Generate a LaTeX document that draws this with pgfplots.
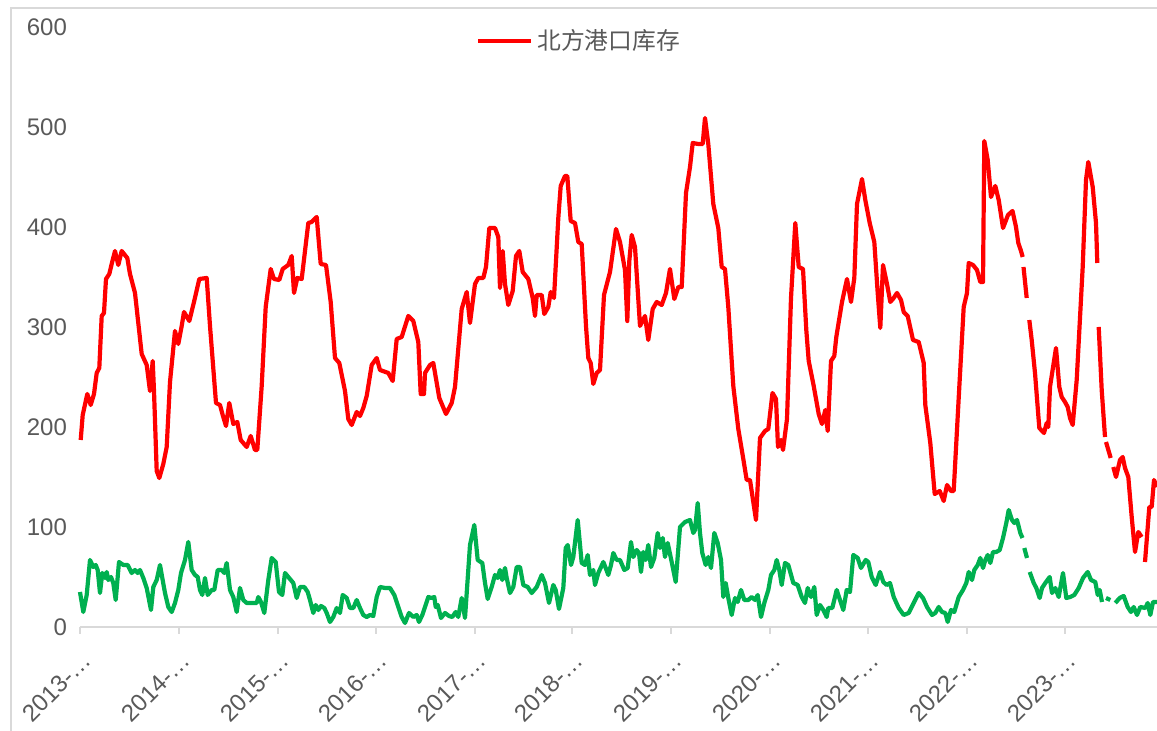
\documentclass[border=0pt]{standalone}
\usepackage{fontspec}
\setmainfont{Liberation Sans}
\newfontfamily\cjk{Noto Sans CJK SC}
\usepackage{pgfplots}
\pgfplotsset{compat=1.18}
\definecolor{axisgrey}{RGB}{217,217,217}
\definecolor{labelgrey}{RGB}{89,89,89}
\definecolor{redline}{RGB}{255,0,0}
\definecolor{greenline}{RGB}{0,176,80}
\begin{document}
\begin{tikzpicture}
\useasboundingbox (0,0) rectangle (578.5pt,365.5pt);
\draw[axisgrey, line width=0.75pt] (5.5pt,0) -- (5.5pt,361.5pt) -- (578.5pt,361.5pt);
\begin{axis}[
  at={(40pt,52pt)}, anchor=south west,
  scale only axis, width=538.5pt, height=300pt,
  xmin=80, xmax=1157, ymin=0, ymax=600,
  axis x line*=bottom, axis y line*=left,
  x axis line style={draw=axisgrey, line width=0.75pt},
  y axis line style={draw=none},
  xtick={80,179,278,376,475,572,671,770,868,967,1065},
  xticklabels={2013-…,2014-…,2015-…,2016-…,2017-…,2018-…,2019-…,2020-…,2021-…,2022-…,2023-…},
  ytick={0,100,200,300,400,500,600},
  ytick style={draw=none},
  xtick style={draw=axisgrey, line width=0.75pt},
  xtick align=outside, major tick length=3.5pt,
  tick label style={font=\fontsize{12}{14}\selectfont, text=labelgrey},
  xticklabel style={anchor=east, xshift=6pt, yshift=-9pt, rotate=45},
  yticklabel style={xshift=-3pt},
  /pgf/number format/assume math mode=true,
  unbounded coords=jump,
  clip=false,
  legend style={at={(0.4643,0.9767)}, anchor=center, draw=none, fill=none,
    font=\cjk\fontsize{11.9}{13}\selectfont, text=labelgrey},
  legend image code/.code={\draw[#1, line width=2.1pt] (0pt,0pt) -- (26.5pt,0pt);},
  every axis plot/.append style={line join=round},
]
\addplot[color=greenline, line width=2.1pt, forget plot] table {
x y
80 35
83.3 15
86.7 32
90 67
93.3 60
95.7 62
97.7 57
100 34
102.3 54
105 49
106.7 55
108.3 47
111 50
113.3 44
115.7 27
119 65
123.3 62
127.7 62
131.7 54
135 57
137.7 54
140 57
143.3 49
146.7 39
151 17
153.3 40
156.7 47
160 62
162.3 49
165 34
168.3 20
171.7 15
175 24
178.3 37
181 54
185 67
188.3 85
191.7 57
195 52
197.7 50
200 37
202.3 32
205 49
207.7 32
211.7 37
214.3 37
217.7 57
221.7 57
224.3 54
226.7 64
230 37
233.3 30
236.7 15
240 39
243.3 27
246.7 24
251.7 24
256.7 24
258.3 30
261 25
264.3 14
268.3 47
271.7 69
275.7 65
279 35
282.3 32
285 54
288.3 50
293.3 44
296.7 29
300 40
304.3 40
307.7 35
310 27
313.3 14
315.7 22
318.3 17
321 21
324.3 19
326.7 14
330 5
333.3 10
336.7 19
340 14
342.7 32
346.7 29
350 19
353.3 19
356.7 27
360 19
363.3 12
366.7 10
370 12
373.3 11
376.7 30
380 40
385 39
390 39
394.3 32
398.3 20
401.7 10
405 4
409 14
413.3 10
416.7 12
419 5
422.3 12
425.7 22
428.3 30
431.7 29
434.3 30
435.7 20
437.7 22
441 9
445 14
449 11
452.3 10
455.7 15
458.3 10
461.7 29
465 9
470 82
474.3 102
477.7 67
482.3 64
485 44
487.7 28
491.7 40
495 52
497.7 49
500 57
502.3 47
505 59
506.7 49
510 34
513.3 40
516.7 60
520 60
523.3 42
527.7 40
531.7 34
536.7 40
541.7 52
545 44
549 24
553.3 42
555.7 37
559 18
563.3 39
565.7 79
567.7 82
571 62
573.3 70
577.7 107
581.7 64
585 62
587.7 72
590 52
593.3 57
595 42
598.3 54
603.3 65
605.7 59
608.3 52
611 62
613.3 74
616.7 67
620 67
624.3 57
627.7 59
631 85
633.3 70
636.7 77
639 74
641 55
643.3 75
645.7 67
648.3 82
651 60
654.3 69
657.7 94
660 79
662.7 89
665 70
667.7 84
671.7 65
675.7 45
680 100
685 105
690 107
693.3 94
695 97
697.7 124
700 94
702.3 74
705.7 62
708.3 70
711 59
714.3 94
717.7 84
721 67
723.3 30
725.7 44
728.3 29
731.7 12
735 29
737.7 25
741 37
744.3 27
748.3 27
751.7 30
755 27
757.7 32
761 10
764.3 24
768.3 37
771 52
774.3 57
776.7 67
779.3 57
781.7 42
785 64
788.3 62
793.3 44
797.7 42
801.7 30
805 24
807.7 39
811 30
814.3 40
816.7 12
820 22
823.3 17
826.7 10
828.3 19
832.3 19
836.7 37
840 27
843.3 17
846.7 37
850 35
853.3 72
857.7 69
861 59
865.7 67
868.3 65
871.7 50
875.7 42
880 55
883.3 45
886.7 42
890 44
893.7 30
898.7 19
903.7 12
908.7 14
913.7 24
918.7 34
923 29
927 20
932 12
935.3 14
938.7 20
942 15
945.3 14
947.7 5
951 17
954.3 15
958.7 30
963 37
966.3 44
968.7 55
972 47
974.3 57
977.7 62
980.3 69
983 59
985.3 67
987.7 72
990.3 64
993 75
996.3 75
999.7 77
1003 89
1006.3 104
1008.7 117
1012 107
1014.3 104
1017 107
1020.3 94
1022.5 89
1023.5 nan
1024.3 79
1027 69
1028 nan
1029.7 55
1033.7 44
1036.3 39
1039.7 29
1042 39
1045.3 44
1049.7 50
1052 34
1055.3 39
1058.7 30
1063 54
1066.3 29
1070.3 30
1074.3 32
1078.7 39
1083 49
1087.7 55
1091 47
1095.3 45
1097.7 32
1099.7 37
1102 25
1104 nan
1106 29
1110.3 27
1112 nan
1115.3 24
1119.7 29
1123.7 31
1127.7 20
1131 15
1133.7 20
1137 12
1140.3 20
1145.3 19
1147.7 24
1150.3 12
1153 25
1157 25
};
\addplot[color=redline, line width=2.1pt] table {
x y
80.7 187
82.7 212
87.3 233
90.7 222
94 233
96.7 254
99.3 259
101.7 311
104 314
106 348
109.3 353
111.7 363
115 376
118.3 362
121.7 376
127.3 369
130 353
135 334
141.7 273
146.7 262
150 236
152.7 266
154 236
156.7 156
159.3 149
163.3 163
166.7 180
170 245
175 296
178.3 283
181.7 301
184 315
189.3 306
194 325
199.3 348
206.7 349
210 301
216 224
220 222
222.7 212
226 201
229.3 224
233.3 203
237.3 205
240.7 187
246.7 180
250.7 191
255 177
257.3 177
261.7 241
265.7 320
270.7 358
274 348
279.3 347
282.7 358
288.3 362
291.7 371
294 334
297.3 349
301.7 348
308.3 404
311.7 405
316.7 410
320.7 363
326 362
330.7 325
335 269
339.3 264
345 236
348.3 208
351.7 202
356.7 215
360 211
363.3 219
366.7 231
371.7 262
376.7 269
380 257
388.3 254
392.7 246
396.7 288
401.7 290
408.3 311
413.3 306
418.3 285
420.7 233
424 233
425 254
430 262
433.3 264
439.3 229
446 213
451.7 224
455 240
461.7 318
466.7 335
470 304
475 343
478.3 349
483.3 349
486 360
489.3 399
495 399
498.3 390
500 339
502.7 376
505 343
508.3 322
512.7 336
516 371
519.3 376
522.7 355
528.3 348
532.7 329
535 311
536.7 332
541.7 332
544.3 313
548.3 320
550.7 335
554 329
558.3 409
560.7 441
565 451
567.3 451
570.7 406
575 404
578.3 385
581.7 383
586 301
588.3 269
590.7 264
593.3 243
596.7 254
600 257
604 332
610 355
616 398
620 385
625 357
627.3 306
629.3 366
631.7 392
635 380
640 301
645 311
648.3 287
652.7 318
656.7 325
661.7 322
666 334
670 358
674.3 328
678.3 340
681.7 340
686 434
690 460
692.7 484
698.3 483
702.7 483
705 509
708.3 483
713.3 423
718.3 399
721.7 360
725 358
728.3 320
733.3 241
738.3 198
743.3 168
746.7 147
750 147
756 107
760 189
765 196
768.3 198
772.5 234
776 228
778 180
781 187
783 177
787 208
791 329
795.3 404
798.7 360
803 358
806.3 297
808.7 266
813.7 241
818.7 213
822 203
825.3 217
827.7 196
831 266
834.3 271
836.3 290
842 325
847 348
851 325
854.3 349
857 423
862 448
865.3 427
869.7 404
874.3 385
877.7 334
880.3 299
883 362
887 343
890.3 325
893.7 329
897 334
901 327
903.7 315
907.7 311
913 287
918.7 285
923.7 264
925.3 222
930.3 184
934.7 133
939.7 136
943.7 126
947 142
951 136
953.7 136
958.7 229
963.7 320
967 334
968.7 364
973 362
977 357
980.3 345
983 345
984.3 486
987.7 467
991 430
995.3 441
998.7 427
1003 399
1008 412
1012.5 416
1016 400
1018.3 384
1020.7 377
1022.7 370
1023.1 nan
1023.5 360
1026.7 329
1028 nan
1029.3 307
1031.7 287
1035 254
1039.3 199
1044 194
1046.7 204
1048.3 200
1050 240
1056 279
1059.3 240
1061.7 230
1065 225
1067.7 220
1070 209
1072.7 202
1076.7 247
1082.7 360
1086 447
1088.3 465
1092.7 440
1096 404
1097.3 364
1098 nan
1098.7 300
1101.7 237
1105 190
1105.5 nan
1106 185
1110.7 169
1112 nan
1113.3 160
1116 150
1120 167
1122.7 170
1125 159
1128.3 150
1131.7 110
1135 75
1138.3 95
1141.7 90
1143 nan
1145 65
1149.3 120
1151.7 120
1154 147
1157 140
};
\addlegendentry{北方港口库存}
\end{axis}
\end{tikzpicture}
\end{document}
